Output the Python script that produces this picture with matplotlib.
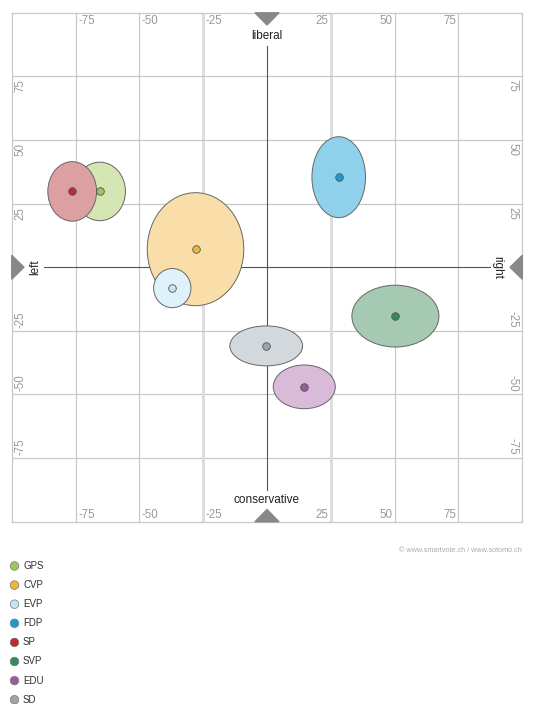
import matplotlib
matplotlib.use("Agg")
import matplotlib.pyplot as plt
from matplotlib.patches import Ellipse, Polygon

plt.rcParams['font.family'] = ['Liberation Sans', 'DejaVu Sans']

parties = ["GPS", "CVP", "EVP", "FDP", "SP", "SVP", "EDU", "SD"]
x_pos = [-65.5, -28.0, -37.1, 28.1, -76.3, 50.3, 14.6, -0.3]
y_pos = [29.8, 7.1, -8.2, 35.4, 29.8, -19.2, -47.0, -30.9]
widths = [20.1, 37.8, 14.6, 21.0, 19.1, 34.1, 24.3, 28.5]
heights = [23.0, 44.4, 15.4, 31.8, 23.4, 24.3, 17.2, 15.7]
fill_colors = ["#d5e6b4", "#f9dea9", "#dff1fa", "#8fd0ea", "#dca0a3", "#a5c9b2", "#d9bad8", "#d3d8dc"]
dot_colors = ["#9cc75a", "#f1b43a", "#c5e4f5", "#1b9bd1", "#c4282d", "#2f8d5a", "#9c5a9e", "#9aa5ad"]
ticks = [-75, -50, -25, 25, 50, 75]

W, H = 533, 704
fig = plt.figure(figsize=(W / 100, H / 100), dpi=100)
L, R, T, B = 11.7, 522.3, 12.8, 521.7
ax = fig.add_axes([L / W, 1 - B / H, (R - L) / W, (B - T) / H])
ax.set_xlim(-100, 100)
ax.set_ylim(-100, 100)
ax.set_xticks([])
ax.set_yticks([])
for s in ax.spines.values():
    s.set_color("#c8c8c8")
    s.set_linewidth(0.9)

for t in ticks:
    if abs(t) == 25:
        ax.axvline(t, color="#dcdcdc", lw=2.0, zorder=0)
    else:
        ax.axvline(t, color="#c8c8c8", lw=0.9, zorder=0)
    ax.axhline(t, color="#c8c8c8", lw=0.9, zorder=0)

# central axes
ax.plot([0, 0], [-87.7, 87.0], color="#555555", lw=0.8, zorder=1)
ax.plot([-87.4, 87.4], [0, 0], color="#555555", lw=0.8, zorder=1)

# triangles
tri_c = "#888888"
ax.add_patch(Polygon([[-4.7, 100], [4.7, 100], [0, 95.2]], closed=True, color=tri_c, zorder=3, clip_on=False))
ax.add_patch(Polygon([[-4.7, -100], [4.7, -100], [0, -95.2]], closed=True, color=tri_c, zorder=3, clip_on=False))
ax.add_patch(Polygon([[-100, -4.7], [-100, 4.7], [-95.2, 0]], closed=True, color=tri_c, zorder=3, clip_on=False))
ax.add_patch(Polygon([[100, -4.7], [100, 4.7], [95.2, 0]], closed=True, color=tri_c, zorder=3, clip_on=False))

lab_c = "#222222"
ax.text(0, 91.0, "liberal", ha="center", va="center", fontsize=8.5, color=lab_c)
ax.text(0, -91.6, "conservative", ha="center", va="center", fontsize=8.5, color=lab_c)
ax.text(-90.7, 0, "left", ha="center", va="center", rotation=90, fontsize=8.5, color=lab_c)
ax.text(90.3, 0, "right", ha="center", va="center", rotation=270, fontsize=8.5, color=lab_c)

tc = "#9a9a9a"
tfs = 8.3
for t in ticks:
    lbl = str(t)
    if t < 0:
        ax.text(t + 1.0, 96.7, lbl, ha="left", va="center", fontsize=tfs, color=tc)
        ax.text(t + 1.0, -97.4, lbl, ha="left", va="center", fontsize=tfs, color=tc)
        ax.text(-96.6, t + 1.2, lbl, ha="center", va="bottom", rotation=90, fontsize=tfs, color=tc)
        ax.text(96.0, t + 1.2, lbl, ha="center", va="bottom", rotation=270, fontsize=tfs, color=tc)
    else:
        ax.text(t - 1.0, 96.7, lbl, ha="right", va="center", fontsize=tfs, color=tc)
        ax.text(t - 1.0, -97.4, lbl, ha="right", va="center", fontsize=tfs, color=tc)
        ax.text(-96.6, t - 1.2, lbl, ha="center", va="top", rotation=90, fontsize=tfs, color=tc)
        ax.text(96.0, t - 1.2, lbl, ha="center", va="top", rotation=270, fontsize=tfs, color=tc)

for i, p in enumerate(parties):
    ax.add_patch(Ellipse((x_pos[i], y_pos[i]), widths[i], heights[i],
                         facecolor=fill_colors[i], edgecolor="#666666", lw=0.7, zorder=2 + i * 0.01))
for i, p in enumerate(parties):
    ax.scatter([x_pos[i]], [y_pos[i]], s=30, c=dot_colors[i], edgecolors="#555555", linewidths=0.6, zorder=4)

# legend / footer in pixel coordinates
lax = fig.add_axes([0, 0, 1, 1])
lax.set_xlim(0, W)
lax.set_ylim(H, 0)
lax.axis("off")
lax.patch.set_alpha(0)
leg_y = [566 + 19.1 * i for i in range(len(parties))]
lax.scatter([14.5] * len(parties), leg_y, s=38, c=dot_colors, edgecolors="#777777", linewidths=0.5)
for i, p in enumerate(parties):
    lax.text(23, leg_y[i], p, ha="left", va="center", fontsize=7, color="#333333")
lax.text(522, 551, "\u00a9 www.smartvote.ch / www.sotomo.ch", ha="right", va="center", fontsize=5.2, color="#aaaaaa")

fig.savefig("out.png", dpi=100)
